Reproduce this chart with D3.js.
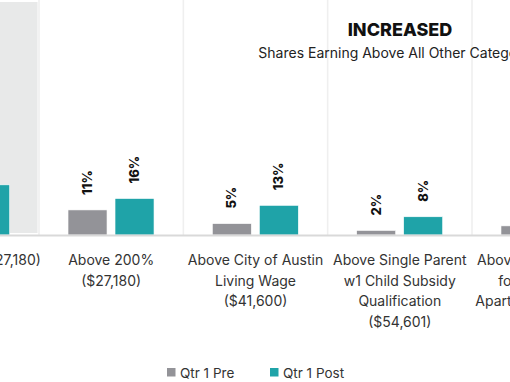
<!DOCTYPE html>
<html>
<head>
<meta charset="utf-8">
<script src="https://cdn.jsdelivr.net/npm/d3@7"></script>
<style>
  html, body { margin: 0; padding: 0; background: #fff; }
  svg { display: block; font-family: Inter, "Open Sans", sans-serif; }
</style>
</head>
<body>
<div id="chart"></div>
<script>
// ---- data ----
const categories = ["below200", "above200", "livingWage", "singleParent", "rent"];
const categoryLabels = [
  ["Below 200% ($27,180)"],
  ["Above 200%", "($27,180)"],
  ["Above City of Austin", "Living Wage", "($41,600)"],
  ["Above Single Parent", "w1 Child Subsidy", "Qualification", "($54,601)"],
  ["Above Average Rent", "for 1 Bedroom", "Apartment ($57,000)"]
];
const seriesNames = ["Qtr 1 Pre", "Qtr 1 Post"];
const preValues = [35, 11, 5, 2, 4];
const postValues = [22, 16, 13, 8, 9];
const title = "INCREASED";
const subtitle = "Shares Earning Above All Other Categories";
const highlightedCategory = "below200";

// ---- layout ----
const W = 510, H = 382;
const colors = { "Qtr 1 Pre": "#939398", "Qtr 1 Post": "#1fa3a8" };
const baseY = 235;

const svg = d3.select("#chart").append("svg").attr("width", W).attr("height", H);

const x = d3.scaleBand().domain(categories).range([-105.3, 616.3]).paddingInner(0).paddingOuter(0);
const y = d3.scaleLinear().domain([0, 100]).range([baseY, baseY - 228]);
const xs = d3.scaleBand().domain(seriesNames).range([29, 115]).paddingInner(8 / 47).paddingOuter(0);

// highlighted band
svg.append("rect")
  .attr("x", x(highlightedCategory))
  .attr("y", 2)
  .attr("width", x.bandwidth() - 1.5)
  .attr("height", baseY - 4)
  .attr("fill", "#e8e9e9");

// separators
svg.selectAll("line.sep")
  .data(categories.slice(1))
  .join("line")
  .attr("class", "sep")
  .attr("x1", d => x(d)).attr("x2", d => x(d))
  .attr("y1", 0).attr("y2", baseY)
  .attr("stroke", "#efefef")
  .attr("stroke-width", 1.6);

// title
svg.append("text")
  .attr("x", 400).attr("y", 36)
  .attr("text-anchor", "middle")
  .attr("font-size", 18).attr("font-weight", 800)
  .attr("fill", "#111")
  .text(title);
svg.append("text")
  .attr("x", 400).attr("y", 58)
  .attr("text-anchor", "middle")
  .attr("font-size", 14)
  .attr("fill", "#222")
  .text(subtitle);

// bars
const rows = [];
categories.forEach((c, i) => {
  rows.push({ cat: c, series: "Qtr 1 Pre", value: preValues[i] });
  rows.push({ cat: c, series: "Qtr 1 Post", value: postValues[i] });
});

svg.selectAll("rect.bar")
  .data(rows)
  .join("rect")
  .attr("class", "bar")
  .attr("x", d => x(d.cat) + xs(d.series))
  .attr("y", d => y(d.value))
  .attr("width", xs.bandwidth())
  .attr("height", d => baseY - y(d.value))
  .attr("fill", d => colors[d.series])
  .attr("stroke", "#ffffff")
  .attr("stroke-width", 0.6);

// value labels
svg.selectAll("text.val")
  .data(rows)
  .join("text")
  .attr("class", "val")
  .attr("transform", d => `translate(${x(d.cat) + xs(d.series) + xs.bandwidth() / 2},${y(d.value) - 15}) rotate(-90)`)
  .attr("dy", "0.35em")
  .attr("font-size", 13)
  .attr("font-weight", 800)
  .attr("fill", "#111")
  .text(d => d.value + "%");

// axis
const axis = svg.append("g").attr("transform", `translate(0,${baseY})`)
  .call(d3.axisBottom(x).tickSize(0).tickFormat(""));
axis.select(".domain").attr("stroke", "#d9d9d9").attr("stroke-width", 2);

// category labels
categories.forEach((c, i) => {
  const t = svg.append("text")
    .attr("x", x(c) + x.bandwidth() / 2)
    .attr("y", 265)
    .attr("text-anchor", "middle")
    .attr("font-size", 14)
    .attr("fill", "#333");
  categoryLabels[i].forEach((line, j) => {
    t.append("tspan")
      .attr("x", x(c) + x.bandwidth() / 2)
      .attr("dy", j === 0 ? 0 : 20.6)
      .text(line);
  });
});

// legend
const legendX = [167, 270];
const lg = svg.selectAll("g.leg").data(seriesNames).join("g")
  .attr("class", "leg")
  .attr("transform", (d, i) => `translate(${legendX[i]},368)`);
lg.append("rect").attr("width", 8.5).attr("height", 8.5).attr("fill", d => colors[d]);
lg.append("text").attr("x", 13).attr("y", 9.5).attr("font-size", 13.5).attr("fill", "#333").text(d => d);
</script>
</body>
</html>
